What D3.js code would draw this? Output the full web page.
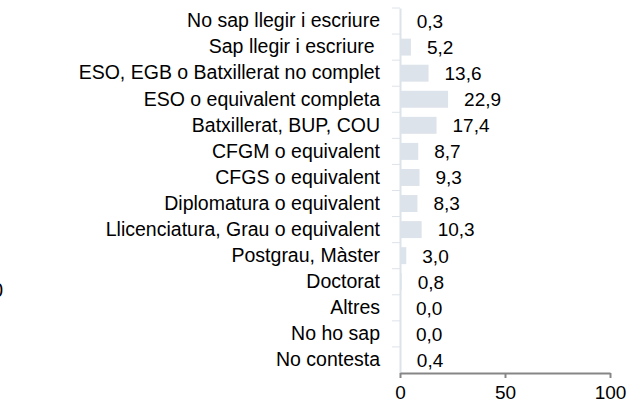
<!DOCTYPE html>
<html>
<head>
<meta charset="utf-8">
<script src="https://cdn.jsdelivr.net/npm/d3@7"></script>
<style>
  body { margin: 0; background: #fff; }
  text { font-family: "Liberation Sans", Arial, sans-serif; fill: #000; }
</style>
</head>
<body>
<div id="chart"></div>
<script>
// categories and values
const categories = [
  "No sap llegir i escriure",
  "Sap llegir i escriure ",
  "ESO, EGB o Batxillerat no complet",
  "ESO o equivalent completa",
  "Batxillerat, BUP, COU",
  "CFGM o equivalent",
  "CFGS o equivalent",
  "Diplomatura o equivalent",
  "Llicenciatura, Grau o equivalent",
  "Postgrau, Màster",
  "Doctorat",
  "Altres",
  "No ho sap",
  "No contesta"
];
const values = [0.3, 5.2, 13.6, 22.9, 17.4, 8.7, 9.3, 8.3, 10.3, 3.0, 0.8, 0.0, 0.0, 0.4];
const xTicks = [0, 50, 100];

const W = 629, H = 404;
const margin = {top: 8, right: 19, bottom: 31, left: 400};
const width = W - margin.left - margin.right,
      height = H - margin.top - margin.bottom;

const svg = d3.select("#chart")
  .append("svg")
  .attr("width", W)
  .attr("height", H)
  .append("g")
  .attr("transform", `translate(${margin.left}, ${margin.top})`);

const data = categories.map((c, i) => ({cat: c, val: values[i]}));

const x = d3.scaleLinear().domain([0, 100]).range([0, width]);
const y = d3.scaleBand().domain(categories).range([0, height]).paddingInner(0.35).paddingOuter(0.175);

// bars
svg.append("g")
  .selectAll("rect")
  .data(data)
  .join("rect")
    .attr("x", 0)
    .attr("y", d => y(d.cat))
    .attr("width", d => x(d.val))
    .attr("height", y.bandwidth())
    .style("fill", "#dde3ea");

// value labels
svg.append("g")
  .selectAll("text")
  .data(data)
  .join("text")
    .attr("x", d => x(d.val) + 16)
    .attr("y", d => y(d.cat) + y.bandwidth() / 2)
    .attr("dy", "0.36em")
    .style("font-size", "19px")
    .text(d => d.val.toFixed(1).replace(".", ","));

// Y axis
const yAxis = svg.append("g")
  .call(d3.axisLeft(y).tickSize(8).tickPadding(12).tickSizeOuter(0));
yAxis.attr("font-family", null);
yAxis.select(".domain").attr("stroke", "#dde3ea").attr("stroke-width", 2);
yAxis.selectAll(".tick text")
  .style("font-size", "19.5px")
  .style("white-space", "pre")
  .attr("fill", "#000");

// ticks on the band boundaries
svg.append("g")
  .selectAll("line")
  .data(categories)
  .join("line")
    .attr("x1", -8).attr("x2", 0)
    .attr("y1", d => y(d) - y.step() * y.paddingInner() / 2)
    .attr("y2", d => y(d) - y.step() * y.paddingInner() / 2)
    .attr("stroke", "#dde3ea");
yAxis.selectAll(".tick line").remove();

// X axis
const xAxis = svg.append("g")
  .attr("transform", `translate(0, ${height})`)
  .call(d3.axisBottom(x).tickValues(xTicks).tickSize(5).tickPadding(8).tickSizeOuter(0));
xAxis.attr("font-family", null);
xAxis.select(".domain").attr("stroke", "#868686").attr("stroke-width", 2);
xAxis.selectAll(".tick line").attr("stroke", "#868686").attr("stroke-width", 2);
xAxis.selectAll(".tick text").style("font-size", "19px").attr("fill", "#000");

// stray clipped label at the left edge
d3.select("#chart svg").append("text")
  .attr("x", 3).attr("y", 297)
  .attr("text-anchor", "end")
  .style("font-size", "19.5px")
  .text("0");
</script>
</body>
</html>
